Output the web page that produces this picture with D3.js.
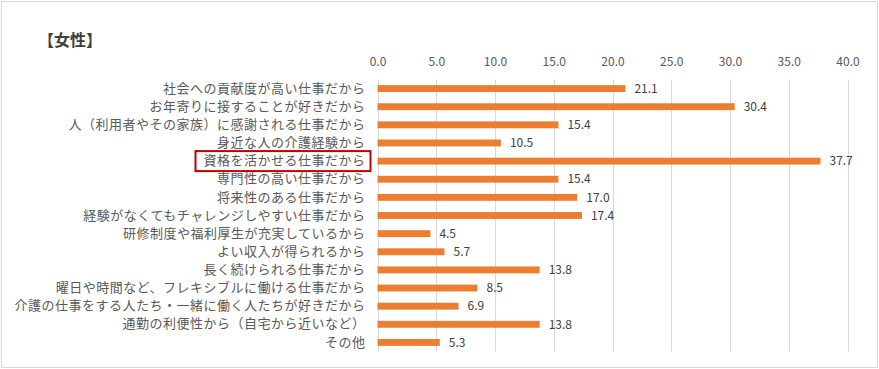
<!DOCTYPE html>
<html>
<head>
<meta charset="utf-8">
<script src="https://cdn.jsdelivr.net/npm/d3@7"></script>
<style>
  body { margin: 0; background: #fff; }
  svg text { font-family: "Noto Sans CJK JP", sans-serif; }
</style>
</head>
<body>
<div id="chart-area"></div>
<script>
const categories = [
  "社会への貢献度が高い仕事だから",
  "お年寄りに接することが好きだから",
  "人（利用者やその家族）に感謝される仕事だから",
  "身近な人の介護経験から",
  "資格を活かせる仕事だから",
  "専門性の高い仕事だから",
  "将来性のある仕事だから",
  "経験がなくてもチャレンジしやすい仕事だから",
  "研修制度や福利厚生が充実しているから",
  "よい収入が得られるから",
  "長く続けられる仕事だから",
  "曜日や時間など、フレキシブルに働ける仕事だから",
  "介護の仕事をする人たち・一緒に働く人たちが好きだから",
  "通勤の利便性から（自宅から近いなど）",
  "その他"
]
const values = [21.1, 30.4, 15.4, 10.5, 37.7, 15.4, 17.0, 17.4, 4.5, 5.7, 13.8, 8.5, 6.9, 13.8, 5.3]
const tickValues = [0, 5, 10, 15, 20, 25, 30, 35, 40]
const highlighted = "資格を活かせる仕事だから"

const WIDTH = 879
const HEIGHT = 369
const MARGIN = {LEFT: 377.5, RIGHT: 29, TOP: 79.5, BOTTOM: 17.5}

const svg = d3.select("#chart-area").append("svg")
    .attr("width", WIDTH)
    .attr("height", HEIGHT)

// outer frame
svg.append("rect")
    .attr("x", 1.5).attr("y", 1.5)
    .attr("width", WIDTH - 3).attr("height", HEIGHT - 3)
    .attr("fill", "#fff")
    .attr("stroke", "#d9d9d9")

// title
svg.append("text")
    .attr("x", 38)
    .attr("y", 46)
    .attr("font-size", "16px")
    .attr("font-weight", "bold")
    .attr("fill", "#404040")
    .text("【女性】")

const x = d3.scaleLinear()
    .domain([0, 40])
    .range([MARGIN.LEFT, WIDTH - MARGIN.RIGHT - 2.5])

const y = d3.scaleBand()
    .domain(categories)
    .range([MARGIN.TOP, HEIGHT - MARGIN.BOTTOM])
    .paddingInner(0.62)
    .paddingOuter(0.31)

// gridlines
svg.append("g")
    .selectAll("line")
    .data(tickValues)
    .enter().append("line")
    .attr("x1", d => Math.round(x(d)) + 0.5)
    .attr("x2", d => Math.round(x(d)) + 0.5)
    .attr("y1", MARGIN.TOP)
    .attr("y2", HEIGHT - MARGIN.BOTTOM)
    .attr("stroke", "#d9d9d9")

// top axis labels
const xAxisCall = d3.axisTop(x)
    .tickValues(tickValues)
    .tickFormat(d3.format(".1f"))
    .tickSize(0)
    .tickPadding(0)

const xAxis = svg.append("g")
    .attr("transform", "translate(0, 66)")
    .call(xAxisCall)
xAxis.select(".domain").remove()
xAxis.selectAll("text")
    .attr("dy", 0)
    .attr("font-size", "12px")
    .attr("font-family", "'Noto Sans CJK JP', sans-serif")
    .attr("fill", "#595959")

// category labels
const yAxisCall = d3.axisLeft(y).tickSize(0).tickPadding(12)
const yAxis = svg.append("g")
    .attr("transform", `translate(${MARGIN.LEFT}, 0)`)
    .call(yAxisCall)
yAxis.select(".domain").remove()
yAxis.selectAll("text")
    .attr("font-size", "13px")
    .attr("letter-spacing", "0.5px")
    .attr("font-family", "'Noto Sans CJK JP', sans-serif")
    .attr("fill", "#595959")

// highlight box
const hy = y(highlighted) + y.bandwidth() / 2
svg.append("rect")
    .attr("x", 195.5)
    .attr("y", hy - 10)
    .attr("width", 175)
    .attr("height", 20)
    .attr("fill", "none")
    .attr("stroke", "#c00000")
    .attr("stroke-width", 2)

// bars
const rows = categories.map((c, i) => ({name: c, value: values[i]}))

svg.append("g")
    .selectAll("rect")
    .data(rows)
    .enter().append("rect")
    .attr("x", x(0))
    .attr("y", d => y(d.name))
    .attr("width", d => x(d.value) - x(0))
    .attr("height", y.bandwidth())
    .attr("fill", "#ed7d31")

// value labels
svg.append("g")
    .selectAll("text")
    .data(rows)
    .enter().append("text")
    .attr("x", d => x(d.value) + 9)
    .attr("y", d => y(d.name) + y.bandwidth() / 2)
    .attr("dy", "0.35em")
    .attr("font-size", "12px")
    .attr("fill", "#404040")
    .text(d => d.value.toFixed(1))
</script>
</body>
</html>
